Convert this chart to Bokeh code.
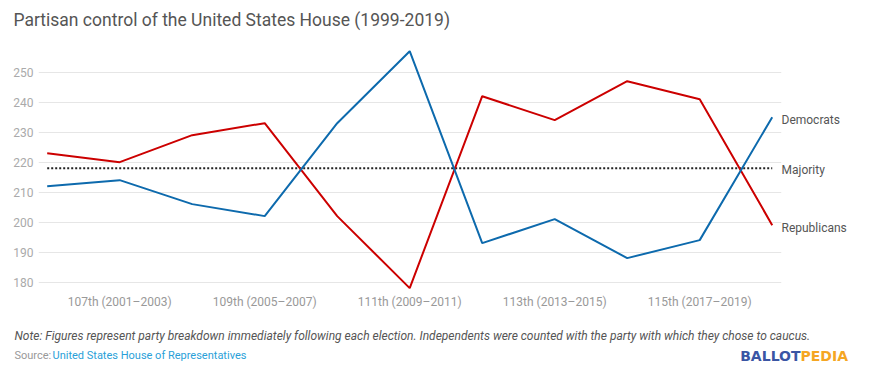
from bokeh.plotting import figure
from bokeh.models import FixedTicker, Range1d, LinearAxis
from bokeh.layouts import column
from bokeh.core.properties import value
from bokeh.embed import file_html
from bokeh.resources import INLINE

congresses = ["106th (1999–2001)", "107th (2001–2003)", "108th (2003–2005)", "109th (2005–2007)",
              "110th (2007–2009)", "111th (2009–2011)", "112th (2011–2013)", "113th (2013–2015)",
              "114th (2015–2017)", "115th (2017–2019)", "116th (2019–2021)"]
democrats = [212, 214, 206, 202, 233, 257, 193, 201, 188, 194, 235]
republicans = [223, 220, 229, 233, 202, 178, 242, 234, 247, 241, 199]
majority = 218
y_ticks = [180, 190, 200, 210, 220, 230, 240, 250]
x_tick_idx = [1, 3, 5, 7, 9]
end_labels = ["Democrats", "Majority", "Republicans"]

title_text = "Partisan control of the United States House (1999-2019)"
note_text = ("Note: Figures represent party breakdown immediately following each election. "
             "Independents were counted with the party with which they chose to caucus.")
source_label = "Source:"
source_link = "United States House of Representatives"

FONT = "Roboto"
W = 875
RED = "#cc0000"
BLUE = "#0d6aad"
xs = list(range(len(congresses)))


def no_align(f):
    try:
        f.frame_align = False
    except Exception:
        pass


def blank_fig(h):
    f = figure(width=W, height=h, output_backend="svg", toolbar_location=None,
               x_range=Range1d(0, W), y_range=Range1d(h, 0),
               x_axis_type=None, y_axis_type=None,
               min_border_left=0, min_border_right=0, min_border_top=0, min_border_bottom=0)
    f.grid.visible = False
    f.outline_line_color = None
    no_align(f)
    return f


# header
hdr = blank_fig(40)
hdr.text(x=[13], y=[19], text=[title_text], text_font=value(FONT), text_font_size="17.5px",
         text_color="#555555", text_baseline="middle", text_align="left")

# main chart
p = figure(width=W, height=280, output_backend="svg", toolbar_location=None,
           x_range=Range1d(-0.12, 10.128), y_range=Range1d(177.2, 258.9),
           min_border_left=38, min_border_right=94, min_border_top=5, min_border_bottom=30)
p.outline_line_color = None
no_align(p)

p.xgrid.grid_line_color = None
p.ygrid.grid_line_color = "#e6e6e6"
p.ygrid.grid_line_width = 1
p.ygrid.ticker = FixedTicker(ticks=y_ticks)

p.yaxis.ticker = FixedTicker(ticks=y_ticks)
p.yaxis.axis_line_color = None
p.yaxis.major_tick_line_color = None
p.yaxis.major_tick_out = 0
p.yaxis.minor_tick_line_color = None
p.yaxis.minor_tick_out = 0
p.yaxis.major_label_text_color = "#aaaaaa"
p.yaxis.major_label_text_font = FONT
p.yaxis.major_label_text_font_size = "12px"
p.yaxis.major_label_standoff = 5

p.xaxis.ticker = FixedTicker(ticks=x_tick_idx)
p.xaxis.major_label_overrides = {i: congresses[i] for i in x_tick_idx}
p.xaxis.axis_line_color = None
p.xaxis.major_tick_line_color = None
p.xaxis.major_tick_out = 0
p.xaxis.minor_tick_line_color = None
p.xaxis.minor_tick_out = 0
p.xaxis.major_label_text_color = "#999999"
p.xaxis.major_label_text_font = FONT
p.xaxis.major_label_text_font_size = "12px"
p.xaxis.major_label_standoff = 4

# end-of-line labels as a right axis
end_pos = [democrats[-1] - 1, majority - 0.5, republicans[-1] - 1]
right = LinearAxis(ticker=FixedTicker(ticks=end_pos),
                   major_label_overrides={v: t for v, t in zip(end_pos, end_labels)})
right.axis_line_color = None
right.major_tick_line_color = None
right.major_tick_out = 0
right.minor_tick_line_color = None
right.minor_tick_out = 0
right.major_label_text_color = "#555555"
right.major_label_text_font = FONT
right.major_label_text_font_size = "12px"
right.major_label_standoff = 0
p.add_layout(right, "right")

p.line([xs[0], xs[-1]], [majority, majority], line_color="#222222", line_width=2, line_dash="2 2")
p.line(xs, republicans, line_color=RED, line_width=2)
p.line(xs, democrats, line_color=BLUE, line_width=2)

# footer
ftr = blank_fig(47)
ftr.text(x=[14], y=[15], text=[note_text], text_font=value(FONT), text_font_size="12px",
         text_font_style="italic", text_color="#555555", text_baseline="middle", text_align="left")
ftr.text(x=[14], y=[35], text=[source_label], text_font=value(FONT), text_font_size="11px",
         text_color="#999999", text_baseline="middle", text_align="left")
ftr.text(x=[52], y=[35], text=[source_link], text_font=value(FONT), text_font_size="11px",
         text_color="#2a9fd8", text_baseline="middle", text_align="left")
ftr.text(x=[800], y=[35], text=["BALLOT"], text_font=value("DejaVu Sans"), text_font_size="14px",
         text_font_style="bold", text_color="#3a55a4", text_baseline="middle", text_align="right")
ftr.text(x=[800], y=[35], text=["PEDIA"], text_font=value("DejaVu Sans"), text_font_size="14px",
         text_font_style="bold", text_color="#f5a623", text_baseline="middle", text_align="left")

layout = column(hdr, p, ftr, spacing=0)
open("out.html", "w").write(file_html(layout, INLINE))
